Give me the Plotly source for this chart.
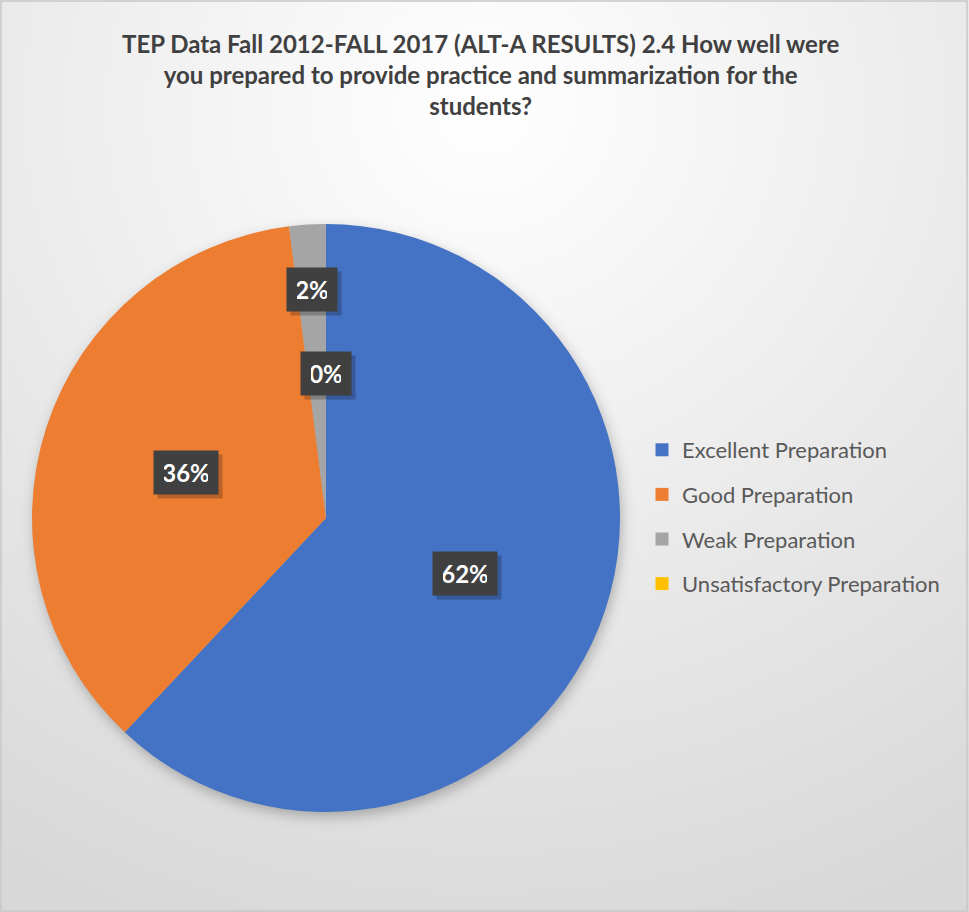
import base64, math
import plotly.graph_objects as go

# ---------------- data ----------------
categories = ["Excellent Preparation", "Good Preparation", "Weak Preparation", "Unsatisfactory Preparation"]
counts = [31, 18, 1, 0]
title_lines = ["TEP Data Fall 2012-FALL 2017 (ALT-A RESULTS) 2.4 How well were",
               "you prepared to provide practice and summarization for the",
               "students?"]

# ---------------- style ----------------
colors = ["#4472C4", "#ED7D31", "#A5A5A5", "#FFC000"]
label_radius = [0.51, 0.50, 0.78, 0.49]   # radial placement of data labels (fraction of radius)
W, H = 969, 912
FONT = "Lato, 'Open Sans', sans-serif"

# pie placement (pixels)
px_l, px_r, px_t, px_b = 32, 620, 224, 812
dom_x = [px_l / W, px_r / W]
dom_y = [1 - px_b / H, 1 - px_t / H]
cx_px, cy_px = (px_l + px_r) / 2, (px_t + px_b) / 2
R_px = (px_r - px_l) / 2

svg = f"""<svg xmlns='http://www.w3.org/2000/svg' width='{W}' height='{H}'>
<defs>
<radialGradient id='g' cx='0.5' cy='0.12' r='0.95'>
<stop offset='0' stop-color='#ffffff'/><stop offset='1' stop-color='#d8d8d8'/>
</radialGradient>
<filter id='b' x='-20%' y='-20%' width='140%' height='140%'><feGaussianBlur stdDeviation='7'/></filter>
</defs>
<rect width='{W}' height='{H}' fill='url(#g)'/>
<circle cx='{cx_px+2}' cy='{cy_px+5}' r='{R_px-1}' fill='#000' fill-opacity='0.28' filter='url(#b)'/>
</svg>"""
bg_uri = "data:image/svg+xml;base64," + base64.b64encode(svg.encode()).decode()

fig = go.Figure()
fig.add_trace(go.Pie(
    labels=categories, values=counts, sort=False, direction="clockwise", rotation=0,
    marker=dict(colors=colors, line=dict(width=0)),
    textinfo="none", hoverinfo="label+percent", showlegend=False,
    domain=dict(x=dom_x, y=dom_y),
))

# legend via proxy traces for controllable spacing
for name, c in zip(categories, colors):
    fig.add_trace(go.Scatter(x=[None], y=[None], mode="markers", name=name,
                             legendgroup=name,
                             marker=dict(symbol="square", size=13, color=c)))

# data labels computed from the values
total = sum(counts)
cum = 0
annotations = []
for v, rf in zip(counts, label_radius):
    mid = (cum + v / 2) / total * 2 * math.pi
    cum += v
    x_px = cx_px + rf * R_px * math.sin(mid)
    y_px = cy_px - rf * R_px * math.cos(mid)
    pct = f"{round(v / total * 100)}%"
    bw = 14 * len(pct) + 2
    common = dict(x=x_px / W, y=1 - y_px / H, xref="paper", yref="paper",
                  showarrow=False, borderpad=10, xanchor="center", yanchor="middle",
                  width=bw, height=23)
    annotations.append(dict(text=" ", font=dict(family=FONT, size=20, color="rgba(0,0,0,0)"),
                            bgcolor="rgba(0,0,0,0.22)", xshift=4, yshift=-4, **common))
    annotations.append(dict(text=f"<b>{pct}</b>", font=dict(family=FONT, size=24, color="#ffffff"),
                            bgcolor="#404040", **common))

annotations.append(dict(text="<b>" + "<br>".join(title_lines) + "</b>",
                        x=480 / W, y=1 - 26.5 / H, xref="paper", yref="paper",
                        xanchor="center", yanchor="top", showarrow=False,
                        font=dict(family=FONT, size=24, color="#404040")))

fig.update_layout(
    width=W, height=H,
    margin=dict(l=0, r=0, t=0, b=0),
    paper_bgcolor="#ffffff", plot_bgcolor="rgba(0,0,0,0)",
    xaxis=dict(visible=False), yaxis=dict(visible=False),
    images=[dict(source=bg_uri, xref="paper", yref="paper", x=0, y=1, sizex=1, sizey=1,
                 sizing="stretch", xanchor="left", yanchor="top", layer="below")],
    annotations=annotations,
    showlegend=True,
    legend=dict(x=642 / W, y=1 - 429 / H, xanchor="left", yanchor="top",
                font=dict(family=FONT, size=22, color="#595959"),
                tracegroupgap=13, bgcolor="rgba(0,0,0,0)", itemclick=False),
    shapes=[dict(type="rect", xref="paper", yref="paper", x0=0.001, x1=0.998, y0=0.001, y1=0.999,
                 line=dict(color="#c8c8c8", width=1.5), layer="above")],
)

fig.write_html("out.html", config={"displayModeBar": False},
               post_script="document.body.style.margin='0';")
